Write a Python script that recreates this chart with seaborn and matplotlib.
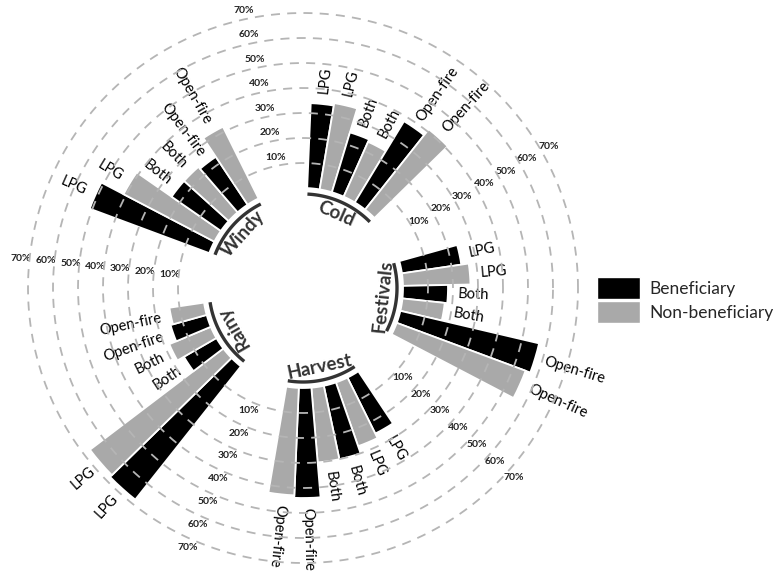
import numpy as np
import matplotlib.pyplot as plt
import seaborn as sns
from matplotlib.patches import Patch

# values in %, order: LPG, Both, Open-fire
groups = ["Cold", "Festivals", "Harvest", "Rainy", "Windy"]
fuels = ["LPG", "Both", "Open-fire"]
status = ["Beneficiary", "Non-beneficiary"]

cold_benef = [34, 25, 38]
cold_nonbenef = [35, 24, 41]
festivals_benef = [24, 18, 57]
festivals_nonbenef = [27, 17, 55]
harvest_benef = [25, 30, 44]
harvest_nonbenef = [27, 30, 43]
rainy_benef = [68, 15, 15]
rainy_nonbenef = [67, 18, 14]
windy_benef = [51, 24, 23]
windy_nonbenef = [41, 24, 32]

grid_levels = [10, 20, 30, 40, 50, 60, 70]

benef = [cold_benef, festivals_benef, harvest_benef, rainy_benef, windy_benef]
nonbenef = [cold_nonbenef, festivals_nonbenef, harvest_nonbenef, rainy_nonbenef, windy_nonbenef]


def plot_circular(benef, nonbenef):
    sns.set_theme(style="white")
    plt.rcParams["font.family"] = ["Lato", "DejaVu Sans"]
    palette = ["#000000", "#a9a9a9"]

    fig = plt.figure(figsize=(7.8, 5.77), dpi=100)
    # polar axes placed so the centre sits at (303, 288) px, 2.5 px per %
    ax = fig.add_axes([3 / 780, -11 / 577, 600 / 780, 600 / 577], projection="polar")
    ax.set_ylim(0, 120)
    ax.set_axis_off()

    hole = 40
    step = 7.2
    centers = [66 - 72 * k for k in range(len(groups))]

    for g, grp in enumerate(groups):
        c = centers[g]
        for f, fuel in enumerate(fuels):
            for s, vals in enumerate([benef[g], nonbenef[g]]):
                j = 2 * f + s
                a = c + (2.5 - j) * step
                v = vals[f]
                ax.bar(np.deg2rad(a), v, width=np.deg2rad(step), bottom=hole,
                       color=palette[s], edgecolor="white", linewidth=1.3, zorder=2)
                an = (a + 180) % 360 - 180
                if an > 100 or an < -100:
                    rot, ha = an + 180, "right"
                else:
                    rot, ha = an, "left"
                ax.text(np.deg2rad(a), hole + v + 4, fuel, rotation=rot, ha=ha, va="center",
                        rotation_mode="anchor", fontsize=10.5, color="black")

        # group arc and name
        th = np.deg2rad(np.linspace(c - 21.3, c + 21.3, 60))
        ax.plot(th, np.full_like(th, 37.6), color="#333333", lw=2.4, solid_capstyle="butt", zorder=3)
        rot = c - 90 if grp in ["Cold", "Rainy", "Windy"] else c + 90
        ax.text(np.deg2rad(c), 32.3, grp, rotation=rot, ha="center", va="center",
                rotation_mode="anchor", fontsize=13.5, fontweight="bold", color="#333333")

    # dashed rings on top of the bars
    th = np.linspace(0, 2 * np.pi, 500)
    for p in grid_levels:
        ax.plot(th, np.full_like(th, hole + p), ls=(0, (5, 4)), color="#b5b5b5", lw=1.3, zorder=4)

    gaps = [c - 36 for c in centers]
    for a in gaps:
        for p in grid_levels:
            ax.text(np.deg2rad(a), hole + p + 3.5, f"{p}%", ha="center", va="center",
                    fontsize=7.5, fontweight="bold", color="#222222")

    handles = [Patch(facecolor=palette[0]), Patch(facecolor=palette[1])]
    fig.legend(handles, status, loc="center left", bbox_to_anchor=(597 / 780, 1 - 300 / 577),
               frameon=False, fontsize=12.5, handlelength=2.45, handleheight=1.6,
               handletextpad=0.55, labelspacing=0.1, borderpad=0, borderaxespad=0)

    fig.savefig("out.png", dpi=100)


if __name__ == "__main__":
    plot_circular(benef, nonbenef)
